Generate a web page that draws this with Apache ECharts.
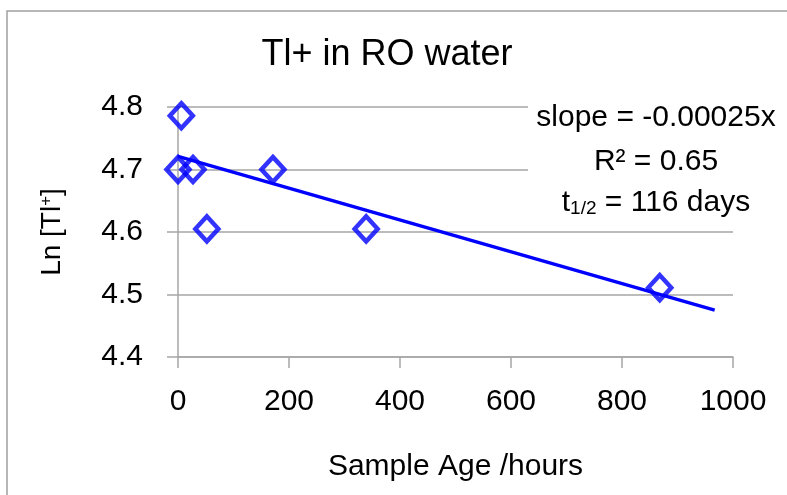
<!DOCTYPE html>
<html>
<head>
<meta charset="utf-8">
<script src="https://cdn.jsdelivr.net/npm/echarts@6/dist/echarts.min.js"></script>
<style>html,body{margin:0;padding:0;background:#fff}#c{width:787px;height:495px}</style>
</head>
<body>
<div id="c"></div>
<script>
// Data
var titleText = 'Tl+ in RO water';
var xAxisName = 'Sample Age /hours';
var hours = [0, 6, 27, 52, 171, 339, 868];
var lnTl = [4.700, 4.786, 4.700, 4.605, 4.700, 4.605, 4.511];
var trendX = [0, 967];
var trendY = [4.721, 4.475];
var xTicks = [0, 200, 400, 600, 800, 1000];
var yTicks = [4.4, 4.5, 4.6, 4.7, 4.8];

var FONT = 'Liberation Sans';
var points = hours.map(function (h, i) { return [h, lnTl[i]]; });
var trend = trendX.map(function (h, i) { return [h, trendY[i]]; });

var chart = echarts.init(document.getElementById('c'), null, { renderer: 'canvas' });
chart.setOption({
  backgroundColor: '#fff',
  animation: false,
  textStyle: { fontFamily: FONT },
  grid: { left: 178, right: 54, top: 107, bottom: 138, containLabel: false },
  xAxis: {
    type: 'value', min: xTicks[0], max: xTicks[xTicks.length - 1], interval: 200,
    name: xAxisName, nameLocation: 'middle', nameGap: 95,
    nameTextStyle: { fontSize: 30, color: '#000', fontFamily: FONT },
    axisLine: { show: true, lineStyle: { color: '#a6a6a6', width: 1.5 } },
    axisTick: { show: true, inside: false, length: 11, lineStyle: { color: '#a6a6a6', width: 1.5 } },
    axisLabel: { fontSize: 30, color: '#000', margin: 30, fontFamily: FONT,
      formatter: function (v) { return String(v); } },
    splitLine: { show: false }
  },
  yAxis: {
    type: 'value', min: yTicks[0], max: yTicks[yTicks.length - 1], interval: 0.1,
    name: '{n|Ln [Tl}{s|+}{n|]}', nameLocation: 'middle', nameGap: 112, nameRotate: 90,
    nameTextStyle: {
      color: '#000', fontFamily: FONT,
      rich: {
        n: { fontSize: 28, color: '#000', fontFamily: FONT },
        s: { fontSize: 17, color: '#000', fontFamily: FONT, verticalAlign: 'top', padding: [0, 0, 10, 0] }
      }
    },
    axisLine: { show: true, lineStyle: { color: '#a6a6a6', width: 1.5 } },
    axisTick: { show: true, inside: false, length: 11, lineStyle: { color: '#a6a6a6', width: 1.5 } },
    axisLabel: {
      fontSize: 30, color: '#000', margin: 35, fontFamily: FONT,
      formatter: function (v) { return v.toFixed(1); }
    },
    splitLine: { show: true, lineStyle: { color: '#a6a6a6', width: 1.5 } }
  },
  series: [
    {
      type: 'line', data: trend, symbol: 'none', z: 2,
      lineStyle: { color: '#0000ff', width: 3.5 }
    },
    {
      type: 'scatter', data: points, symbol: 'diamond', symbolSize: [23, 25], z: 3,
      itemStyle: { color: 'rgba(255,255,255,0)', borderColor: '#0000ff', borderWidth: 4.5 }
    }
  ],
  graphic: [
    {
      type: 'rect', shape: { x: 7, y: 11, width: 800, height: 500 }, silent: true, z: -10,
      style: { fill: 'none', stroke: '#a0a0a0', lineWidth: 1.5 }
    },
    {
      type: 'text', x: 387, y: 55, z: 10,
      style: { text: titleText, font: '36px "Liberation Sans"', fill: '#000', align: 'center', verticalAlign: 'middle' }
    },
    {
      type: 'rect', shape: { x: 528, y: 92, width: 259, height: 132 }, z: 20,
      style: { fill: '#fff', stroke: 'none' }
    },
    {
      type: 'text', x: 656, y: 118, z: 21,
      style: { text: 'slope = -0.00025x', font: '30px "Liberation Sans"', fill: '#000', align: 'center', verticalAlign: 'middle' }
    },
    {
      type: 'text', x: 656, y: 162, z: 21,
      style: { text: 'R² = 0.65', font: '30px "Liberation Sans"', fill: '#000', align: 'center', verticalAlign: 'middle' }
    },
    {
      type: 'text', x: 656, y: 203, z: 21,
      style: {
        text: '{n|t}{s|1/2}{n| = 116 days}', align: 'center', verticalAlign: 'middle', fill: '#000',
        rich: {
          n: { fontSize: 30, fontFamily: FONT, fill: '#000' },
          s: { fontSize: 19, fontFamily: FONT, fill: '#000', verticalAlign: 'bottom', padding: [12, 0, 0, 0] }
        }
      }
    }
  ]
});
</script>
</body>
</html>
